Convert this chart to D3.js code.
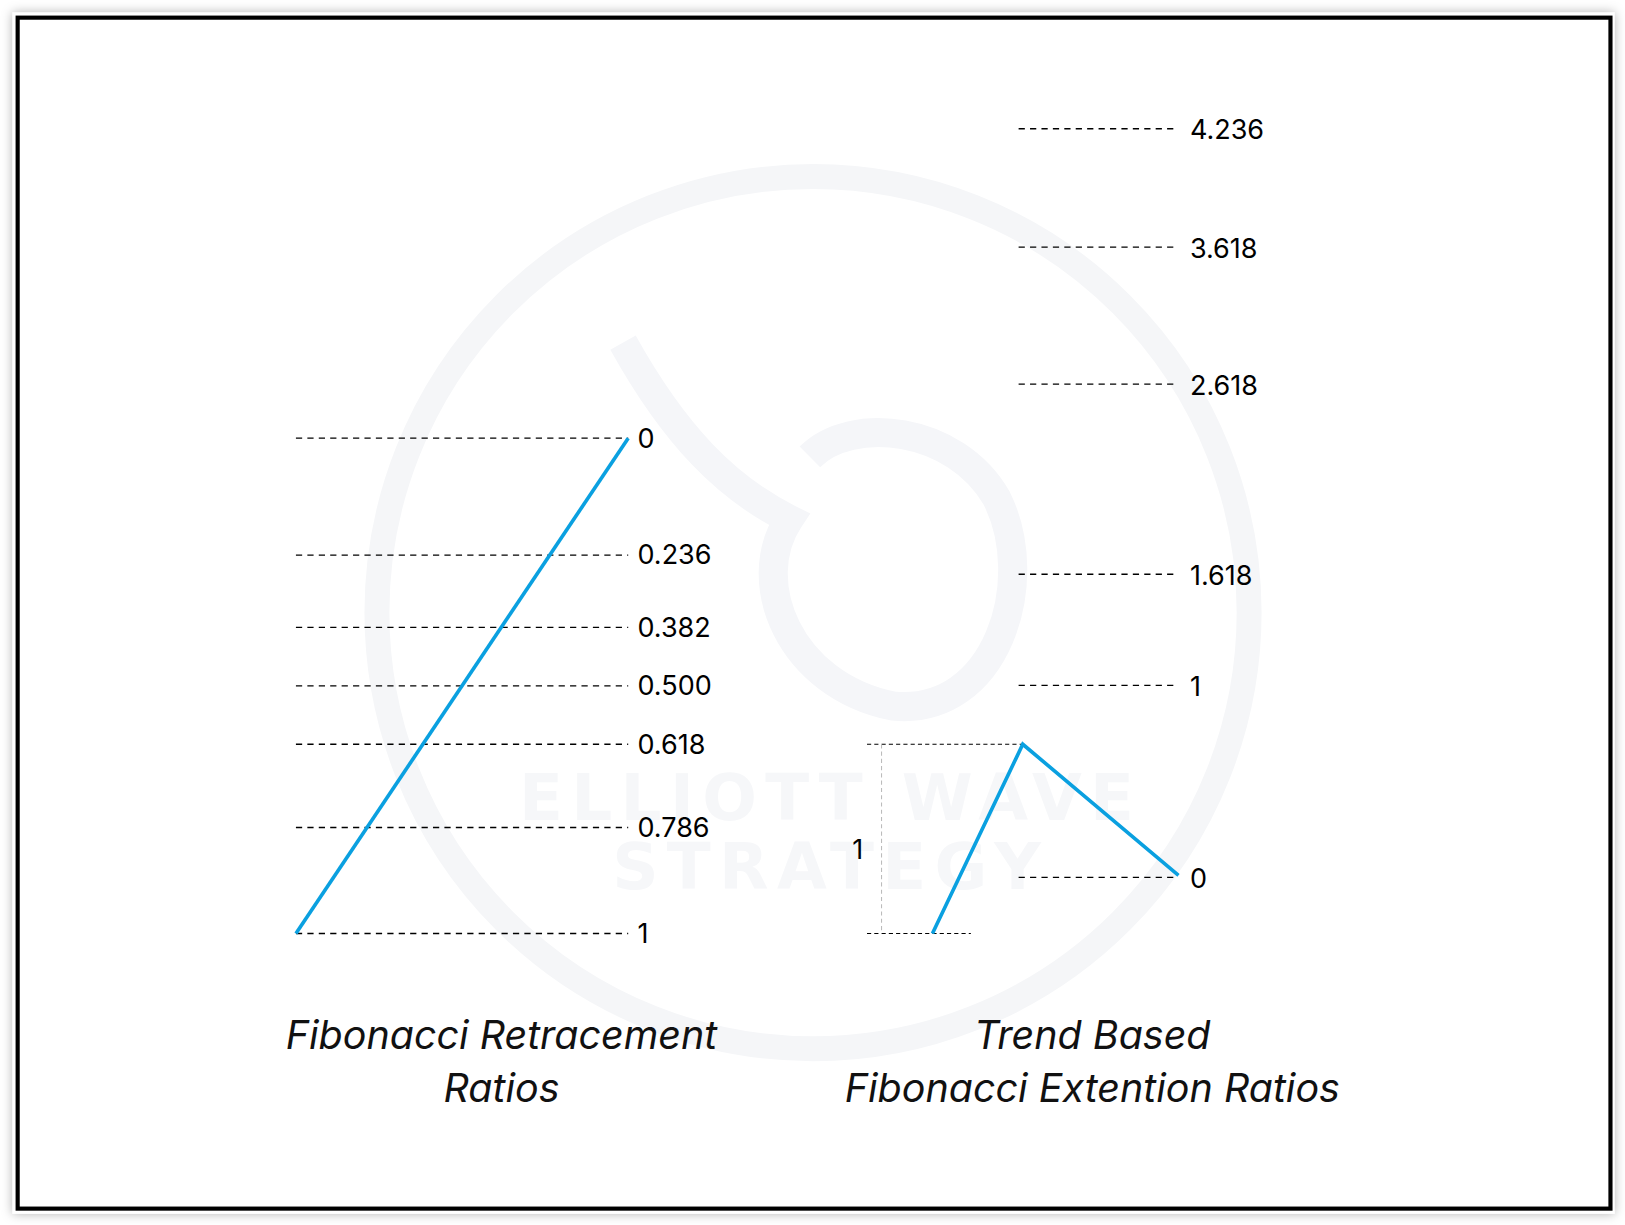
<!DOCTYPE html>
<html><head><meta charset="utf-8">
<script src="https://cdn.jsdelivr.net/npm/d3@7"></script>
<style>body{margin:0;background:#fff}svg{display:block}</style>
</head><body>
<script>
const retraceLevels=[0,0.236,0.382,0.5,0.618,0.786,1];
const retraceLabels=["0","0.236","0.382","0.500","0.618","0.786","1"];
const extLevels=[0,1,1.618,2.618,3.618,4.236];
const extLabels=["0","1","1.618","2.618","3.618","4.236"];
const extPositions=[845,660,553,370,238,124];

const W=1625,H=1225,k=1625/1565;
const svg=d3.select("body").append("svg").attr("width",W).attr("height",H);
const defs=svg.append("defs");
const f=defs.append("filter").attr("id","sh").attr("x","-5%").attr("y","-5%").attr("width","110%").attr("height","110%");
f.append("feDropShadow").attr("dx",0).attr("dy",0).attr("stdDeviation",5).attr("flood-color","#000").attr("flood-opacity",0.3);
const g=svg.append("g").attr("transform",`scale(${k})`);
g.append("rect").attr("x",12).attr("y",12).attr("width",1543).attr("height",1157).attr("fill","#fff").attr("filter","url(#sh)");
g.append("rect").attr("x",17).attr("y",17).attr("width",1534).attr("height",1147).attr("fill","#fff").attr("stroke","#000").attr("stroke-width",4);

// watermark (faint)
g.append("circle").attr("cx",783).attr("cy",590).attr("r",420).attr("fill","none").attr("stroke","#f5f6f8").attr("stroke-width",24);
g.append("path").attr("d","M600,330 C650,420 700,470 760,500 C720,560 760,660 860,680 C960,690 1000,560 960,480 C920,410 820,400 780,440").attr("fill","none").attr("stroke","#f5f6f9").attr("stroke-width",28);
const wm=g.append("g").attr("aria-hidden","true");
wm.append("path").attr("d","").attr("fill","none");
const wmText=(y,s)=>g.append("text").attr("x",800).attr("y",y).attr("text-anchor","middle").attr("font-family","DejaVu Sans").attr("font-weight","bold").attr("font-size",62).attr("letter-spacing",8).attr("fill","#f6f7f9").text(s);
wmText(790,"ELLIOTT WAVE");
wmText(856,"STRATEGY");

const font="Inter, 'Open Sans', sans-serif";
const yR=d3.scaleLinear().domain([0,1]).range([422,899]);
const xR=d3.scaleLinear().domain([0,1]).range([285,605]);
const yE=d3.scaleLinear().domain(extLevels).range(extPositions);
const dash="6,5";

retraceLevels.forEach((v,i)=>{
  g.append("line").attr("x1",xR(0)).attr("x2",xR(1)).attr("y1",yR(v)).attr("y2",yR(v)).attr("stroke","#000").attr("stroke-width",1.3).attr("stroke-dasharray",dash);
  g.append("text").attr("x",xR(1)+9).attr("y",yR(v)+9).attr("font-family",font).attr("font-size",26).attr("fill","#000").text(retraceLabels[i]);
});
g.append("line").attr("x1",xR(0)).attr("y1",yR(1)).attr("x2",xR(1)).attr("y2",yR(0)).attr("stroke","#0aa0e0").attr("stroke-width",3.5);

const xE0=981,xE1=1135;
extLevels.forEach((v,i)=>{
  g.append("line").attr("x1",xE0).attr("x2",xE1).attr("y1",yE(v)).attr("y2",yE(v)).attr("stroke","#000").attr("stroke-width",1.3).attr("stroke-dasharray",dash);
  g.append("text").attr("x",xE1+11).attr("y",yE(v)+10).attr("font-family",font).attr("font-size",26).attr("fill","#000").text(extLabels[i]);
});
g.append("line").attr("x1",835).attr("x2",985).attr("y1",yR(0.618)).attr("y2",yR(0.618)).attr("stroke","#000").attr("stroke-width",1).attr("stroke-dasharray","4,3");
g.append("line").attr("x1",835).attr("x2",935).attr("y1",yR(1)).attr("y2",yR(1)).attr("stroke","#000").attr("stroke-width",1).attr("stroke-dasharray","4,3");
g.append("line").attr("x1",849).attr("x2",849).attr("y1",yR(0.618)).attr("y2",yR(1)).attr("stroke","#bbb").attr("stroke-width",1).attr("stroke-dasharray","4,3");
g.append("text").attr("x",826).attr("y",827).attr("text-anchor","middle").attr("font-family",font).attr("font-size",26).text("1");
g.append("path").attr("d",d3.line()([[898,yR(1)],[985,yR(0.618)],[1135,yE(0)-2]])).attr("fill","none").attr("stroke","#0aa0e0").attr("stroke-width",3.5);

const tt=(x,y,s)=>g.append("text").attr("x",x).attr("y",y).attr("text-anchor","middle").attr("font-family",font).attr("font-style","italic").attr("font-size",38).attr("fill","#111").text(s);
tt(483,1010,"Fibonacci Retracement");
tt(483,1061,"Ratios");
tt(1052,1010,"Trend Based");
tt(1052,1061,"Fibonacci Extention Ratios");
</script>
</body></html>
